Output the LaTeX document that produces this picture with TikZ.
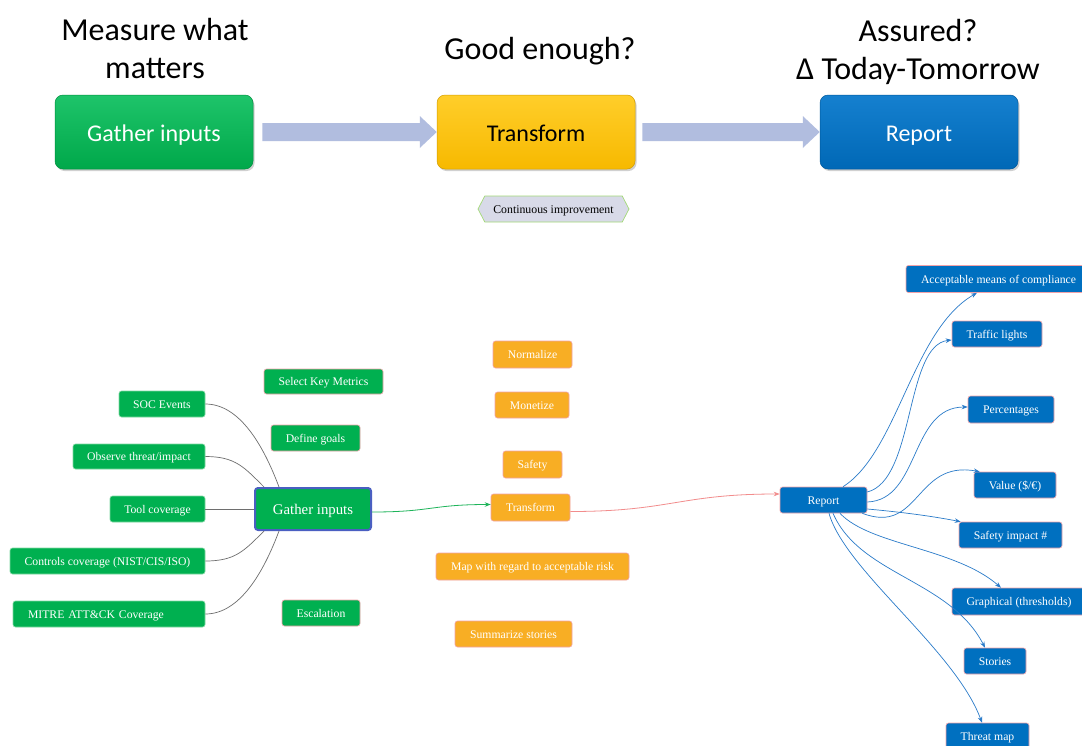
\documentclass[tikz,border=0pt]{standalone}
\usepackage{fontspec}
\setmainfont{Liberation Serif}
\newfontfamily\calibrifont{Carlito}
\usetikzlibrary{arrows.meta,shapes.symbols,shadows,calc}
\definecolor{sgreen}{HTML}{00B050}
\definecolor{sorange}{HTML}{F8AE24}
\definecolor{sblue}{HTML}{0070C0}
\definecolor{pinkb}{HTML}{F2A2A8}
\definecolor{gborder}{HTML}{7FD8A2}
\definecolor{arrowfill}{HTML}{B1BDDF}
\definecolor{linkblue}{HTML}{2A7BC9}
\definecolor{glinkc}{HTML}{1EB45A}
\definecolor{plinkc}{HTML}{F28C8C}
\definecolor{graylink}{HTML}{6E6E6E}
\definecolor{cifill}{HTML}{D8DAE8}
\definecolor{ciborder}{HTML}{A3D977}
\definecolor{gibord}{HTML}{4A5FC1}
\definecolor{gtop}{HTML}{1EC46A}
\definecolor{gbot}{HTML}{00A84A}
\definecolor{ytop}{HTML}{FFCE2A}
\definecolor{ybot}{HTML}{F7B900}
\definecolor{btop}{HTML}{1580CF}
\definecolor{bbot}{HTML}{0068B6}
\begin{document}
\begin{tikzpicture}[x=1pt,y=-1pt,
  title/.style={font=\calibrifont\fontsize{32}{38}\selectfont, align=center, inner sep=0pt},
  bigbox/.style={rectangle, rounded corners=8pt, minimum width=198pt, minimum height=74pt, inner sep=0pt,
    font=\calibrifont\fontsize{24}{28}\selectfont, text height=18pt, text depth=0pt,
    drop shadow={shadow xshift=1.5pt, shadow yshift=-2pt, opacity=0.3, fill=black!60}},
  bigarrow/.style={fill=arrowfill},
  smallbox/.style={rectangle, rounded corners=2.5pt, minimum height=26pt, inner sep=0pt, text=white,
    font=\fontsize{11.7}{14}\selectfont, text height=8pt, text depth=0pt, line width=0.6pt},
  gsmall/.style={smallbox, fill=sgreen, draw=gborder},
  gsmallp/.style={smallbox, fill=sgreen, draw=pinkb},
  osmall/.style={smallbox, fill=sorange, draw=pinkb},
  bsmall/.style={smallbox, fill=sblue, draw=pinkb},
  gline/.style={draw=graylink, line width=0.7pt},
  blink/.style={draw=linkblue, line width=0.7pt, -{Stealth[length=6pt,width=4.5pt]}},
  glink/.style={draw=glinkc, line width=0.8pt, -{Stealth[length=6pt,width=4.5pt]}},
  plink/.style={draw=plinkc, line width=0.8pt, -{Stealth[length=6pt,width=4.5pt]}}
]
\useasboundingbox (0,0) rectangle (1082,745);
\fill[white] (0,0) rectangle (1082,745);
\clip (0,0) rectangle (1082,745);

% ---------- top section ----------
\node[title] (t1) at (155,49) {Measure what\\matters};
\node[title, anchor=base] (t2) at (540,59) {Good enough?};
\node[title] (t3) at (918,52) {Assured?\\Δ Today-Tomorrow};

\node[bigbox, top color=gtop, bottom color=gbot, draw=gbot!85!black, line width=0.5pt, text=white] (gt) at (154,132) {Gather inputs};
\node[bigbox, top color=ytop, bottom color=ybot, draw=ybot!85!black, line width=0.5pt, text=black] (tt) at (536,132) {Transform};
\node[bigbox, top color=btop, bottom color=bbot, draw=bbot!85!black, line width=0.5pt, text=white] (rt) at (919,132) {Report};

\fill[bigarrow] ($(gt.east)+(9,-9)$) -- ($(tt.west)+(-17,-9)$) -- ($(tt.west)+(-17,-16)$) -- (tt.west)
  -- ($(tt.west)+(-17,16)$) -- ($(tt.west)+(-17,9)$) -- ($(gt.east)+(9,9)$) -- cycle;
\fill[bigarrow] ($(tt.east)+(7,-9)$) -- ($(rt.west)+(-17,-9)$) -- ($(rt.west)+(-17,-16)$) -- (rt.west)
  -- ($(rt.west)+(-17,16)$) -- ($(rt.west)+(-17,9)$) -- ($(tt.east)+(7,9)$) -- cycle;

\node[signal, signal to=west and east, signal pointer angle=125, minimum width=151pt, minimum height=26pt,
  inner sep=0pt, fill=cifill, draw=ciborder, line width=0.7pt, font=\fontsize{11.8}{14}\selectfont,
  text height=8pt, text depth=0pt] (ci) at (553.5,209) {Continuous improvement};

% ---------- gather inputs cluster ----------
\node[gsmall, minimum width=86pt] (soc) at (162,404) {SOC Events};
\node[gsmall, minimum width=132pt, minimum height=25pt] (obs) at (139,456.5) {Observe threat/impact};
\node[gsmall, minimum width=95pt] (tool) at (157.5,509) {Tool coverage};
\node[gsmall, minimum width=195pt] (ctrl) at (107.5,561) {Controls coverage (NIST/CIS/ISO)};
\node[gsmall, minimum width=192pt, text width=162pt, align=left] (mitre) at (109,614) {MITRE ATT\&CK Coverage};

\node[gsmallp, minimum width=119pt, minimum height=25pt] (skm) at (323.5,381.5) {Select Key Metrics};
\node[gsmallp, minimum width=89pt] (dg) at (315.5,438) {Define goals};
\node[gsmallp, minimum width=78pt] (esc) at (321,613) {Escalation};

\node[smallbox, fill=sgreen, draw=gibord, line width=2pt, rounded corners=3pt, minimum width=116pt, minimum height=42pt,
  font=\fontsize{14.8}{17}\selectfont, text height=10pt] (gi) at (313,509) {Gather inputs};

\draw[gline] (soc.east) .. controls +(35,0) and +(-15,-40) .. ([xshift=25pt]gi.north west);
\draw[gline] (obs.east) .. controls +(30,0) and +(-20,-20) .. ([xshift=10pt]gi.north west);
\draw[gline] (tool.east) -- (gi.west);
\draw[gline] (ctrl.east) .. controls +(30,0) and +(-20,20) .. ([xshift=10pt]gi.south west);
\draw[gline] (mitre.east) .. controls +(35,0) and +(-15,40) .. ([xshift=25pt]gi.south west);

% ---------- transform cluster ----------
\node[osmall, minimum width=79pt, minimum height=27pt] (norm) at (532.5,354.5) {Normalize};
\node[osmall, minimum width=74pt] (mon) at (532,405) {Monetize};
\node[osmall, minimum width=59pt, minimum height=27pt] (saf) at (532.5,464.5) {Safety};
\node[osmall, minimum width=79pt, minimum height=27pt] (tr) at (530.5,507.5) {Transform};
\node[osmall, minimum width=193pt, minimum height=27pt] (map) at (532.5,566.5) {Map with regard to acceptable risk};
\node[osmall, minimum width=117pt] (sum) at (513.5,634) {Summarize stories};

% ---------- report cluster ----------
\node[bsmall, minimum width=87pt] (rp) at (823.5,500) {Report};
\node[bsmall, minimum width=185pt, minimum height=27pt] (amc) at (998.5,279) {Acceptable means of compliance};
\node[bsmall, minimum width=90pt] (tl) at (997,334) {Traffic lights};
\node[bsmall, minimum width=86pt, minimum height=27pt] (pct) at (1011,409.5) {Percentages};
\node[bsmall, minimum width=82pt] (val) at (1015,485) {Value (\$/€)};
\node[bsmall, minimum width=103pt] (sim) at (1010.5,535) {Safety impact \#};
\node[bsmall, minimum width=134pt, minimum height=27pt] (gr) at (1019,601.5) {Graphical (thresholds)};
\node[bsmall, minimum width=62pt] (sto) at (995,661) {Stories};
\node[bsmall, minimum width=83pt] (tm) at (987.5,736) {Threat map};

\draw[glink] ([yshift=-3pt]gi.east) .. controls +(60,0) and +(-60,0) .. ([yshift=3pt]tr.west);
\draw[plink] ([yshift=-4pt]tr.east) .. controls +(100,0) and +(-100,0) .. ([yshift=6pt]rp.west);

\draw[blink] ([xshift=19.5pt]rp.north) .. controls +(55,-35) and +(-65,37.5) .. ([xshift=-21.5pt]amc.south);
\draw[blink] ([yshift=8pt]rp.east) .. controls +(48,-12) and +(-47,5) .. ([yshift=-6pt]tl.west);
\draw[blink] ([yshift=-2pt]rp.east) .. controls +(53,-2) and +(-58,0) .. ([yshift=2.5pt]pct.west);
\draw[blink] ([xshift=-5pt]rp.south east) .. controls +(58,22) and +(-65,-12) .. ([xshift=6pt]val.north west);
\draw[blink] ([yshift=-9pt]rp.east) .. controls +(33,3) and +(-31,-6) .. ([xshift=2pt]sim.north west);
\draw[blink] ([xshift=16.5pt]rp.south) .. controls +(30,32) and +(-46,-40) .. ([xshift=-18pt]gr.north);
\draw[blink] ([xshift=9.5pt]rp.south) .. controls +(27,62) and +(-35,-68) .. ([xshift=-10pt]sto.north);
\draw[blink] ([xshift=5.5pt]rp.south) .. controls +(16,57) and +(-27,-73) .. ([xshift=-5.5pt]tm.north);
\end{tikzpicture}
\end{document}
